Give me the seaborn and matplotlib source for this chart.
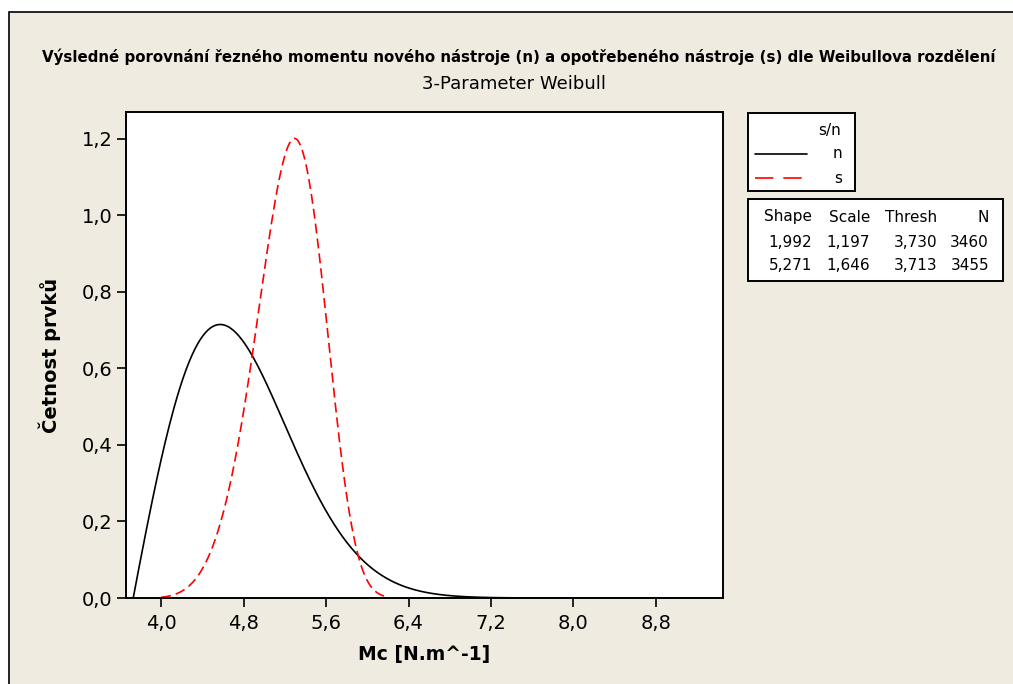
# 3-parameter Weibull fits of cutting torque, new (n) vs worn (s) tool
import numpy as np
import pandas as pd
import matplotlib.pyplot as plt
from matplotlib.patches import Rectangle
from matplotlib.lines import Line2D
import seaborn as sns

# fitted parameters as listed in the chart table
groups = ["n", "s"]
shape = [1.992, 5.271]
scale = [1.197, 1.646]
thresh = [3.730, 3.713]
count = [3460, 3455]
# x range each curve is drawn over
x_from = [3.730, 4.0]
x_to = [9.4, 6.18]

xticks = [4.0, 4.8, 5.6, 6.4, 7.2, 8.0, 8.8]
yticks = [0.0, 0.2, 0.4, 0.6, 0.8, 1.0, 1.2]

bg = "#EFEBE1"

frames = []
for g, k, lam, th, a, b in zip(groups, shape, scale, thresh, x_from, x_to):
    x = np.linspace(a, b, 400)
    z = np.clip((x - th) / lam, 0, None)
    dens = k / lam * z ** (k - 1) * np.exp(-z ** k)
    frames.append(pd.DataFrame({"Mc": x, "dens": dens, "s/n": g}))
df = pd.concat(frames, ignore_index=True)

sns.set_style("ticks")
plt.rcParams["font.family"] = ["DejaVu Sans"]
for key in ["text.color", "axes.labelcolor", "xtick.color", "ytick.color"]:
    plt.rcParams[key] = "black"

fig = plt.figure(figsize=(10.13, 6.84), dpi=100)
fig.patch.set_facecolor("white")
W, H = 1013, 684
# beige panel with the black top/left border
fig.patches.append(Rectangle((9 / W, -0.1), 1.1, 1.1 - 12 / H, transform=fig.transFigure,
                             facecolor=bg, edgecolor="black", lw=1.2, zorder=-5))

ax = fig.add_axes([126 / W, 1 - 598 / H, (723 - 126) / W, (598 - 112) / H])
ax.set_facecolor("white")
sns.lineplot(data=df, x="Mc", y="dens", hue="s/n", style="s/n",
             palette={"n": "black", "s": "red"},
             dashes={"n": "", "s": (6, 3)}, linewidth=1.2,
             legend=False, sort=False, estimator=None, ax=ax)

ax.set_xlim(3.66, 9.45)
ax.set_ylim(0, 1.27)
ax.set_xticks(xticks)
ax.set_xticklabels([f"{v:.1f}".replace(".", ",") for v in xticks], fontsize=14)
ax.set_yticks(yticks)
ax.set_yticklabels([f"{v:.1f}".replace(".", ",") for v in yticks], fontsize=14)
ax.tick_params(direction="out", length=6.5, width=1.2, color="black")
ax.tick_params(axis="x", pad=5)
ax.tick_params(axis="y", pad=3)
for sp in ax.spines.values():
    sp.set_visible(True)
    sp.set_linewidth(1.4)
    sp.set_color("black")
ax.set_xlabel("Mc [N.m^-1]", fontsize=13.5, fontweight="bold")
ax.set_ylabel("Četnost prvků", fontsize=14, fontweight="bold")
ax.xaxis.set_label_coords(0.5, (598 - 645) / 486)
ax.yaxis.set_label_coords((61 - 126) / 597, 0.5)

fig.text(0.512, 1 - 57 / H, "Výsledné porovnání řezného momentu nového nástroje (n) a opotřebeného nástroje (s) dle Weibullova rozdělení",
         ha="center", va="center", fontsize=10.8, fontweight="bold")
fig.text(0.507, 1 - 84 / H, "3-Parameter Weibull", ha="center", va="center", fontsize=13)

# legend box
fig.patches.append(Rectangle((748 / W, 1 - 191 / H), (855 - 748) / W, (191 - 113) / H,
                             transform=fig.transFigure, facecolor="white",
                             edgecolor="black", lw=1.4, zorder=2))
fig.text(830 / W, 1 - 131 / H, "s/n", ha="center", va="center", fontsize=11, zorder=3)
fig.lines.append(Line2D([755 / W, 807 / W], [1 - 154 / H] * 2, transform=fig.transFigure,
                        color="black", lw=1.2, zorder=3))
fig.text(837 / W, 1 - 154 / H, groups[0], ha="center", va="center", fontsize=11, zorder=3)
fig.lines.append(Line2D([755 / W, 802 / W], [1 - 178 / H] * 2, transform=fig.transFigure,
                        color="red", lw=1.2, dashes=(11, 6), zorder=3))
fig.text(838 / W, 1 - 178 / H, groups[1], ha="center", va="center", fontsize=11, zorder=3)

# parameter table
fig.patches.append(Rectangle((748 / W, 1 - 281 / H), (1003 - 748) / W, (281 - 199) / H,
                             transform=fig.transFigure, facecolor="white",
                             edgecolor="black", lw=1.4, zorder=2))
col_right = [812, 870, 937, 989]
header = ["Shape", "Scale", "Thresh", "N"]
rows_y = [217, 242, 266]
for cx, h in zip(col_right, header):
    fig.text(cx / W, 1 - rows_y[0] / H, h, ha="right", va="center", fontsize=11, zorder=3)
for i in range(len(groups)):
    vals = [f"{shape[i]:.3f}", f"{scale[i]:.3f}", f"{thresh[i]:.3f}"]
    vals = [v.replace(".", ",") for v in vals] + [str(count[i])]
    for cx, v in zip(col_right, vals):
        fig.text(cx / W, 1 - rows_y[i + 1] / H, v, ha="right", va="center", fontsize=11, zorder=3)

fig.savefig("out.png", dpi=100, facecolor=fig.get_facecolor())
